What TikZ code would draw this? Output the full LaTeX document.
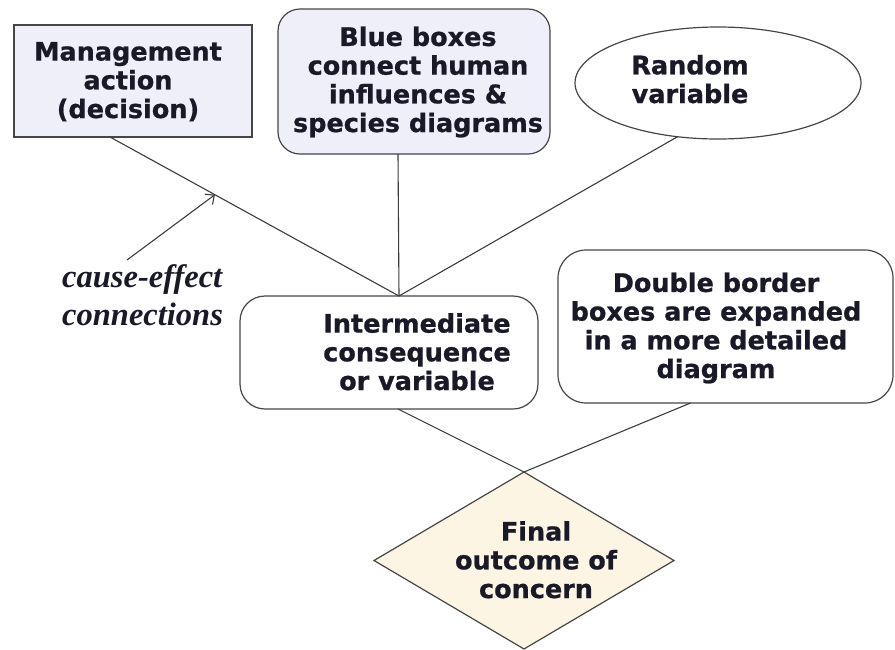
\documentclass[tikz,border=0pt]{standalone}
\usepackage{fontspec}
\usetikzlibrary{shapes.geometric,arrows.meta,calc}
\newfontfamily\boxfont{DejaVu Sans}[BoldFeatures={FakeBold=0.8}]
\newfontfamily\notefont{Liberation Serif}
\definecolor{boxfill}{RGB}{238,239,248}
\definecolor{outfill}{RGB}{252,245,228}
\definecolor{edge}{RGB}{70,70,70}
\definecolor{ink}{RGB}{25,25,40}
\tikzset{
  shapebox/.style={draw=edge, line width=1.2pt, outer sep=0pt, inner sep=0pt},
  txt/.style={font=\boxfont\bfseries\fontsize{25.5}{28.7}\selectfont, align=center,
    anchor=base, inner sep=0pt, text=ink},
  note/.style={font=\notefont\bfseries\itshape\fontsize{32.5}{38}\selectfont, align=left,
    anchor=base west, inner sep=0pt, text=ink},
  conn/.style={draw=edge!85!black, line width=1.1pt},
  pointer/.style={-{Straight Barb[length=7pt,width=13pt]}}
}
\begin{document}
\begin{tikzpicture}[x=1pt,y=-1pt]
\useasboundingbox (0,0) rectangle (895,649);

% shapes
\node[shapebox, rectangle, fill=boxfill, minimum width=238pt, minimum height=112pt] (mgmt) at (133,81) {};
\node[shapebox, rectangle, rounded corners=22pt, fill=boxfill, minimum width=272pt, minimum height=145pt] (blue) at (414,81.5) {};
\node[shapebox, ellipse, fill=white, minimum width=286pt, minimum height=112pt] (rand) at (718,83) {};
\node[shapebox, rectangle, rounded corners=25pt, fill=white, minimum width=298pt, minimum height=113pt] (inter) at (389,352.5) {};
\node[shapebox, rectangle, rounded corners=28pt, fill=white, minimum width=335pt, minimum height=153pt] (dbl) at (725.5,326.5) {};
\node[shapebox, diamond, fill=outfill, minimum width=300pt, minimum height=177pt] (final) at (524,560.5) {};

% labels (placed by the baseline of their last line)
\node[txt] (mgmt-t) at (128,118) {Management\\action\\(decision)};
\node[txt] (blue-t) at (418,132) {Blue boxes\\connect human\\influences \&\\species diagrams};
\node[txt] (rand-t) at (690,103) {Random\\variable};
\node[txt] (inter-t) at (417,390) {Intermediate\\consequence\\or variable};
\node[txt] (dbl-t) at (716,378) {Double border\\boxes are expanded\\in a more detailed\\diagram};
\node[txt] (final-t) at (536,598) {Final\\outcome of\\concern};
\node[note] (cause) at (62,325) {cause-effect\\connections};

% cause-effect connections
\coordinate (hub) at ([xshift=10pt]inter.north);
\coordinate (mgmt-out) at ([xshift=-23pt]mgmt.south);
\draw[conn] (mgmt-out) -- (hub);
\draw[conn] ([xshift=-16pt]blue.south) -- (hub);
\draw[conn] (rand.233) -- (hub);
\draw[conn] ([xshift=9pt]inter.south) -- (final.north);
\draw[conn] ([xshift=-35pt]dbl.south) -- (final.north);

% pointer from the note to a connection
\coordinate (cause-tail) at (127,260);
\draw[conn, pointer] (cause-tail) -- ($(mgmt-out)!0.363!(hub)$);
\end{tikzpicture}
\end{document}
